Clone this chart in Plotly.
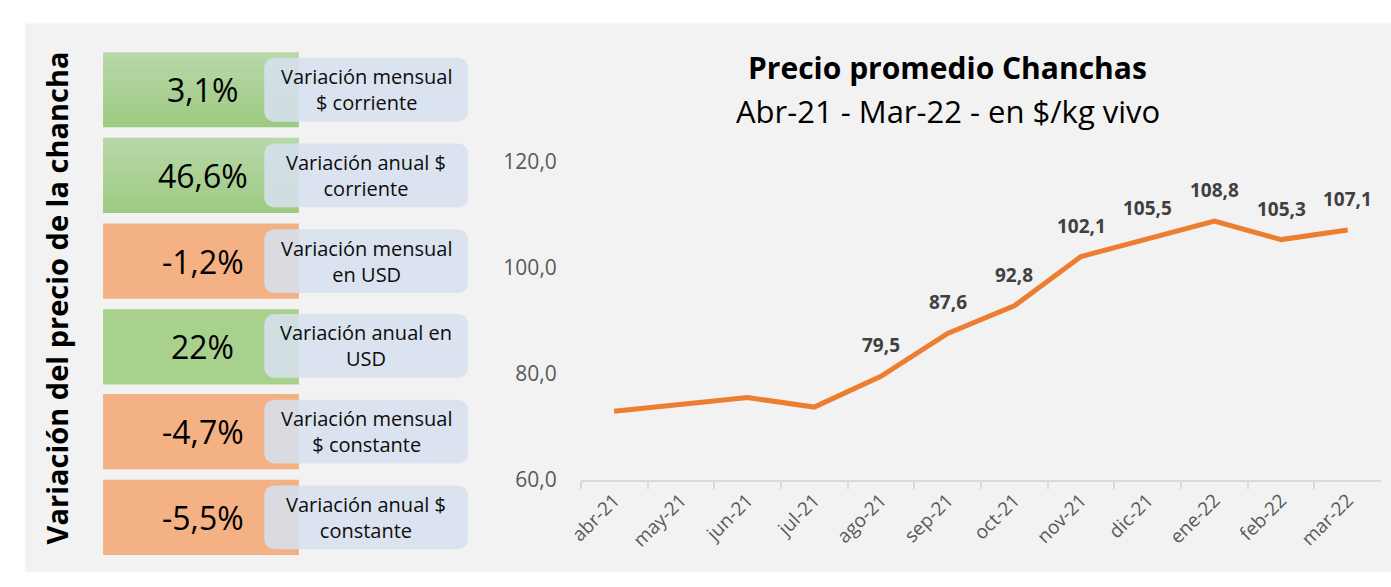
import plotly.graph_objects as go

# ---------------- data ----------------
months = ["abr-21", "may-21", "jun-21", "jul-21", "ago-21", "sep-21",
          "oct-21", "nov-21", "dic-21", "ene-22", "feb-22", "mar-22"]
prices = [72.9, 74.2, 75.5, 73.7, 79.5, 87.6, 92.8, 102.1, 105.5, 108.8, 105.3, 107.1]
show_label = [False, False, False, False, True, True, True, True, True, True, True, True]

pct_values = ["3,1%", "46,6%", "-1,2%", "22%", "-4,7%", "-5,5%"]
pct_names = ["Variación mensual<br>$ corriente",
             "Variación anual $<br>corriente",
             "Variación mensual<br>en USD",
             "Variación anual en<br>USD",
             "Variación mensual<br>$ constante",
             "Variación anual $<br>constante"]
y_ticks = [60, 80, 100, 120]

title_main = "Precio promedio Chanchas"
title_sub = "Abr-21 - Mar-22 - en $/kg vivo"
side_title = "Variación del precio de la chancha"

# ---------------- styling ----------------
W, H = 1391, 587
FONT = "Open Sans"
box_styles = ["grad", "grad", "#f4b183", "#a9d18e", "#f4b183", "#f4b183"]
box_top = [39, 129, 219, 309, 398, 488]
box_h = 79
pill_top = [45, 135, 225, 314, 404, 494]
pill_h = 67


def px(x):
    return x / W


def py(y):
    return 1 - y / H


def lerp_color(c1, c2, t):
    a = [int(c1[i:i + 2], 16) for i in (1, 3, 5)]
    b = [int(c2[i:i + 2], 16) for i in (1, 3, 5)]
    return "rgb(%d,%d,%d)" % tuple(round(a[k] + (b[k] - a[k]) * t) for k in range(3))


def rounded_path(x0, y0, x1, y1, r):
    pts = [
        ("M", [(x0 + r, y0)]), ("L", [(x1 - r, y0)]), ("Q", [(x1, y0), (x1, y0 + r)]),
        ("L", [(x1, y1 - r)]), ("Q", [(x1, y1), (x1 - r, y1)]), ("L", [(x0 + r, y1)]),
        ("Q", [(x0, y1), (x0, y1 - r)]), ("L", [(x0, y0 + r)]), ("Q", [(x0, y0), (x0 + r, y0)]),
    ]
    s = ""
    for cmd, ps in pts:
        s += cmd + " " + " ".join("%.5f,%.5f" % (px(a), py(b)) for a, b in ps) + " "
    return s + "Z"


shapes = []
annotations = []

# gray panel
shapes.append(dict(type="rect", xref="paper", yref="paper", x0=px(10), x1=1, y0=py(585), y1=py(9),
                   fillcolor="#f2f2f2", line=dict(width=0), layer="below"))

# left boxes
for i, (val, name) in enumerate(zip(pct_values, pct_names)):
    t0 = box_top[i]
    st = box_styles[i]
    if st == "grad":
        n = 24
        for k in range(n):
            y0 = t0 + box_h * k / n
            y1 = t0 + box_h * (k + 1) / n + 0.6
            shapes.append(dict(type="rect", xref="paper", yref="paper", x0=px(89), x1=px(287),
                               y0=py(min(y1, t0 + box_h)), y1=py(y0),
                               fillcolor=lerp_color("#b7d8a8", "#9dca82", k / (n - 1)),
                               line=dict(width=0), layer="below"))
    else:
        shapes.append(dict(type="rect", xref="paper", yref="paper", x0=px(89), x1=px(287),
                           y0=py(t0 + box_h), y1=py(t0), fillcolor=st, line=dict(width=0), layer="below"))
    # pill
    p0 = pill_top[i]
    shapes.append(dict(type="path", xref="paper", yref="paper",
                       path=rounded_path(252, p0, 458, p0 + pill_h, 12),
                       fillcolor="rgba(214,224,238,0.88)", line=dict(width=0), layer="above"))
    annotations.append(dict(x=px(190), y=py(t0 + box_h / 2), xref="paper", yref="paper", text=val,
                            showarrow=False, xanchor="center", yanchor="middle",
                            font=dict(family=FONT, size=32, color="#000000")))
    annotations.append(dict(x=px(355), y=py(p0 + pill_h / 2), xref="paper", yref="paper", text=name,
                            showarrow=False, xanchor="center", yanchor="middle", align="center",
                            font=dict(family=FONT, size=20, color="#0d0d0d")))

# side title
annotations.append(dict(x=px(42), y=py(297), xref="paper", yref="paper", text="<b>" + side_title + "</b>",
                        textangle=-90, showarrow=False, xanchor="center", yanchor="middle",
                        font=dict(family=FONT, size=29, color="#000000")))

# chart titles
annotations.append(dict(x=px(943), y=py(55), xref="paper", yref="paper", text="<b>" + title_main + "</b>",
                        showarrow=False, xanchor="center", yanchor="middle",
                        font=dict(family=FONT, size=30, color="#000000")))
annotations.append(dict(x=px(943), y=py(101), xref="paper", yref="paper", text=title_sub,
                        showarrow=False, xanchor="center", yanchor="middle",
                        font=dict(family=FONT, size=31, color="#000000")))

# data labels
for m, v, s in zip(months, prices, show_label):
    if s:
        annotations.append(dict(x=m, y=v, xref="x", yref="y", text=("%.1f" % v).replace(".", ","),
                                showarrow=False, xanchor="center", yanchor="middle", yshift=31,
                                font=dict(family=FONT, size=19, color="#404040", weight="bold")))

fig = go.Figure()
fig.add_trace(go.Scatter(x=months, y=prices, mode="lines",
                         line=dict(color="#ed7d31", width=5), hoverinfo="x+y"))

fig.update_layout(
    width=W, height=H,
    margin=dict(l=0, r=0, t=0, b=0),
    paper_bgcolor="#ffffff", plot_bgcolor="rgba(0,0,0,0)",
    separators=",.",
    showlegend=False,
    shapes=shapes, annotations=annotations,
    xaxis=dict(domain=[px(572), px(1381)], type="category", showgrid=False, zeroline=False,
               showline=True, linecolor="#d9d9d9", linewidth=2,
               ticks="outside", ticklen=7, tickcolor="#d9d9d9", tickwidth=1.5, tickson="boundaries",
               tickangle=-45, tickfont=dict(family=FONT, size=19, color="#595959"),
               range=[-0.5, len(months) - 0.5]),
    yaxis=dict(domain=[py(488), py(154)], range=[60, 120], tickvals=y_ticks, tickformat=".1f",
               showgrid=False, zeroline=False, showline=False, ticks="", ticklabelstandoff=23,
               tickfont=dict(family=FONT, size=21, color="#595959")),
)

fig.write_html("out.html", config={"displayModeBar": False},
               post_script="document.body.style.margin='0';document.body.style.overflow='hidden';")
